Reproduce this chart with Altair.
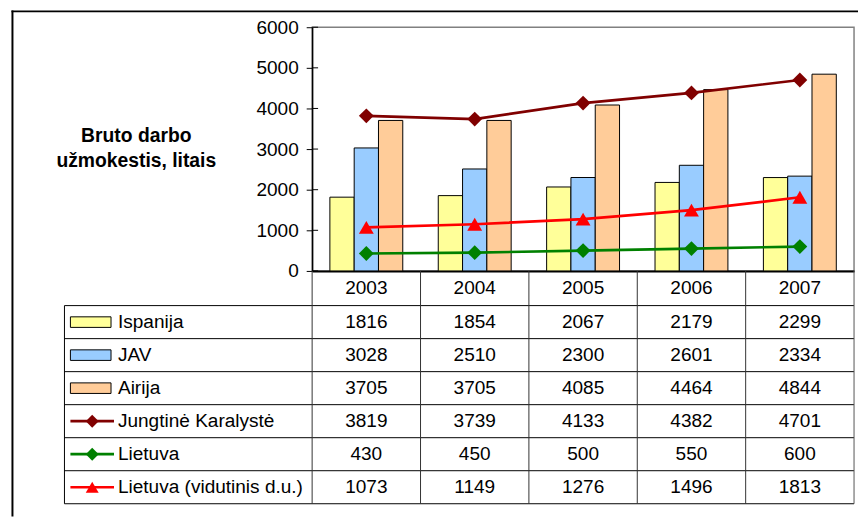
import altair as alt
import pandas as pd

# ---- data ----
years = ["2003", "2004", "2005", "2006", "2007"]
series = ["Ispanija", "JAV", "Airija", "Jungtinė Karalystė", "Lietuva", "Lietuva (vidutinis d.u.)"]
ispanija = [1816, 1854, 2067, 2179, 2299]
jav = [3028, 2510, 2300, 2601, 2334]
airija = [3705, 3705, 4085, 4464, 4844]
jungtine = [3819, 3739, 4133, 4382, 4701]
lietuva = [430, 450, 500, 550, 600]
lietuva_vdu = [1073, 1149, 1276, 1496, 1813]
y_ticks = [0, 1000, 2000, 3000, 4000, 5000, 6000]
y_title = ["Bruto darbo", "užmokestis, litais"]

colors = ["#FFFF99", "#99CCFF", "#FFCC99", "#800000", "#008000", "#FF0000"]
shapes = ["diamond", "diamond", "triangle-up"]
sizes = [225, 225, 280]

bar_series = series[:3]
line_series = series[3:]
all_values = [ispanija, jav, airija, jungtine, lietuva, lietuva_vdu]

rows = []
for s, vals in zip(series, all_values):
    for yr, v in zip(years, vals):
        rows.append({"series": s, "year": yr, "value": v})
df = pd.DataFrame(rows)
bars_df = df[df["series"].isin(bar_series)]
lines_df = df[df["series"].isin(line_series)]
series_df = pd.DataFrame({"series": series})
bar_series_df = pd.DataFrame({"series": bar_series})
line_series_df = pd.DataFrame({"series": line_series})
years_df = pd.DataFrame({"year": years})
ticks_df = pd.DataFrame({"value": y_ticks})
one_df = pd.DataFrame({"k": [0]})

# ---- layout (pixels, relative to plot area) ----
W, H = 547, 246
PAD = {"left": 307, "top": 17, "right": 4, "bottom": 511 - 17 - H}
TABLE_TOP, TABLE_BOTTOM = 281, 481
LEG_LEFT = -250
FONT = "Liberation Sans"
FS = 19.2

color_scale = alt.Scale(domain=series, range=colors)
x_scale = alt.Scale(domain=years, paddingInner=0, paddingOuter=0)
y_scale = alt.Scale(domain=[0, 6000], nice=False)
row_scale = alt.Scale(domain=series, range=[TABLE_TOP, TABLE_BOTTOM], paddingInner=0, paddingOuter=0)
shape_scale = alt.Scale(domain=line_series, range=shapes)
size_scale = alt.Scale(domain=line_series, range=sizes)

X = lambda **kw: alt.X("year:O", scale=x_scale, title=None, **kw)

# ---- plot group ----
bars = alt.Chart(bars_df).mark_bar(stroke="black", strokeWidth=1).encode(
    x=X(),
    xOffset=alt.XOffset("series:N", scale=alt.Scale(domain=bar_series, paddingInner=0, paddingOuter=0.73)),
    y=alt.Y("value:Q", scale=y_scale, axis=alt.Axis(
        values=y_ticks, format="d", title=y_title, titleAngle=0, titleAlign="center",
        titleBaseline="alphabetic", titleX=-178, titleY=115, titleFont=FONT,
        titleFontSize=19.5, titleFontWeight="bold", titleLineHeight=26, titleColor="black",
        labelFont=FONT, labelFontSize=FS, labelColor="black", labelPadding=8,
        tickSize=6, tickColor="black", tickWidth=1, domainColor="black", domainWidth=1.5,
        grid=False)),
    color=alt.Color("series:N", scale=color_scale, legend=None),
)

inner_ticks = alt.Chart(ticks_df).mark_rule(color="black", strokeWidth=1).encode(
    y=alt.Y("value:Q", scale=y_scale),
    x=alt.value(0), x2=alt.value(6),
)

lines = alt.Chart(lines_df).mark_line(strokeWidth=2.7).encode(
    x=X(bandPosition=0.5),
    y=alt.Y("value:Q", scale=y_scale),
    color=alt.Color("series:N", scale=color_scale, legend=None),
)

points = alt.Chart(lines_df).mark_point(filled=True, opacity=1).encode(
    x=X(bandPosition=0.5),
    y=alt.Y("value:Q", scale=y_scale),
    color=alt.Color("series:N", scale=color_scale, legend=None),
    shape=alt.Shape("series:N", scale=shape_scale, legend=None),
    size=alt.Size("series:N", scale=size_scale, legend=None),
)

plot = alt.layer(bars, inner_ticks, lines, points)

# ---- data table group ----
RowY = lambda bp: alt.Y("series:N", scale=row_scale, axis=None, bandPosition=bp)

h_rules = alt.Chart(series_df).mark_rule(color="black", strokeWidth=1).encode(
    y=RowY(0), x=alt.value(LEG_LEFT), x2=alt.value(W))
h_rule_bottom = alt.Chart(series_df).transform_filter(
    alt.datum.series == series[-1]).mark_rule(color="black", strokeWidth=1).encode(
    y=RowY(1), x=alt.value(LEG_LEFT), x2=alt.value(W))
v_rules = alt.Chart(years_df).mark_rule(color="#333333", strokeWidth=1).encode(
    x=X(bandPosition=0), y=alt.value(H), y2=alt.value(TABLE_BOTTOM))
v_rule_right = alt.Chart(years_df).transform_filter(
    alt.datum.year == years[-1]).mark_rule(color="#555555", strokeWidth=1).encode(
    x=X(bandPosition=1), y=alt.value(H), y2=alt.value(TABLE_BOTTOM))
v_rule_left = alt.Chart(one_df).mark_rule(color="black", strokeWidth=1).encode(
    x=alt.value(LEG_LEFT), y=alt.value(TABLE_TOP), y2=alt.value(TABLE_BOTTOM))

cell_text = alt.Chart(df).mark_text(font=FONT, fontSize=FS, color="black",
                                   align="center", baseline="middle").encode(
    x=X(bandPosition=0.5), y=RowY(0.5), text=alt.Text("value:Q", format="d"))

swatch_path = "M-1,-0.26L1,-0.26L1,0.26L-1,0.26Z"
swatches = alt.Chart(bar_series_df).mark_point(
    shape=swatch_path, size=41 * 41, filled=True, opacity=1,
    stroke="black", strokeWidth=1).encode(
    x=alt.value(-223.5), y=RowY(0.5),
    color=alt.Color("series:N", scale=color_scale, legend=None))
leg_lines = alt.Chart(line_series_df).mark_rule(strokeWidth=2.7).encode(
    x=alt.value(-244), x2=alt.value(-200), y=RowY(0.5),
    color=alt.Color("series:N", scale=color_scale, legend=None))
leg_points = alt.Chart(line_series_df).mark_point(filled=True, opacity=1, size=170).encode(
    x=alt.value(-222), y=RowY(0.5),
    color=alt.Color("series:N", scale=color_scale, legend=None),
    shape=alt.Shape("series:N", scale=shape_scale, legend=None))
leg_text = alt.Chart(series_df).mark_text(font=FONT, fontSize=FS, color="black",
                                         align="left", baseline="middle").encode(
    x=alt.value(-196), y=RowY(0.5), text="series:N")

frame_left = alt.Chart(one_df).mark_rule(color="black", strokeWidth=2).encode(
    x=alt.value(-302.5), y=alt.value(-17), y2=alt.value(H + PAD["bottom"]))
frame_top = alt.Chart(one_df).mark_rule(color="black", strokeWidth=2).encode(
    y=alt.value(-16), x=alt.value(-303.5), x2=alt.value(W + PAD["right"]))

table = alt.layer(h_rules, h_rule_bottom, v_rules, v_rule_right, v_rule_left,
                  cell_text, swatches, leg_lines, leg_points, leg_text,
                  frame_left, frame_top)

chart = alt.layer(plot, table).resolve_scale(y="independent").properties(
    width=W, height=H, padding=PAD, autosize=alt.AutoSizeParams(type="none"),
    background="white",
).configure(font=FONT).configure_view(
    stroke="#808080", strokeWidth=1.5
).configure_axisX(
    labelFont=FONT, labelFontSize=FS, labelColor="black", labelAngle=0,
    labelPadding=8, ticks=False, domainColor="black", domainWidth=2, grid=False,
)

chart.save("out.html", embed_options={"renderer": "svg", "actions": False})
